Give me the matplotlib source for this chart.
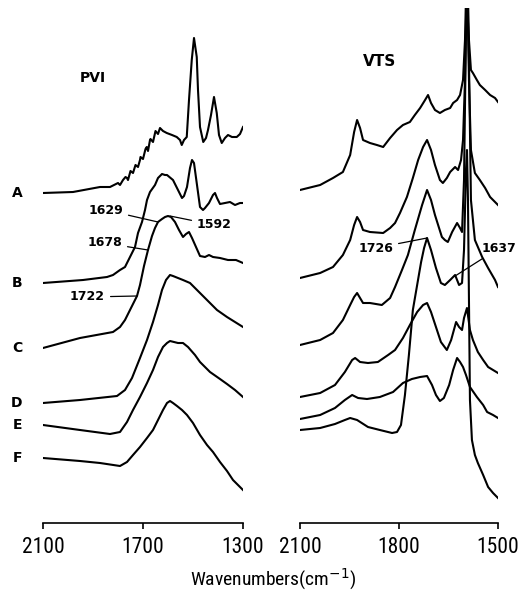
import matplotlib
matplotlib.use("Agg")
import matplotlib.pyplot as plt
from matplotlib import font_manager

# ---------------- data (wavenumber in cm-1, intensity in arbitrary offset units) ----------------
series_labels = ["A", "B", "C", "D", "E", "F"]

# PVI panel
pvi_A_x = [2100, 1980, 1872, 1832, 1800, 1792, 1780, 1770, 1764, 1760, 1750, 1740, 1730, 1720, 1712, 1710,
           1700, 1690, 1685, 1680, 1672, 1670, 1660, 1650, 1640, 1632, 1620, 1605, 1584, 1565, 1552, 1545,
           1536, 1525, 1516, 1505, 1496, 1485, 1480, 1472, 1459, 1448, 1440, 1428, 1416, 1405, 1396,
           1385, 1372, 1360, 1344, 1325, 1312, 1300]
pvi_A_y = [330, 331, 336, 336, 340, 338, 343, 346, 345, 343, 352, 350, 358, 356, 363, 366,
           364, 374, 376, 372, 383, 384, 381, 392, 389, 395, 392, 390, 388, 386, 383, 378,
           383, 386, 423, 463, 485, 466, 433, 396, 381, 385, 393, 408, 426, 410, 388,
           380, 385, 388, 386, 386, 389, 396]
pvi_B_x = [2100, 1940, 1844, 1820, 1792, 1772, 1752, 1732, 1720, 1704, 1692, 1684, 1672, 1652, 1640, 1624,
           1612, 1604, 1580, 1560, 1544, 1536, 1524, 1512, 1504, 1496, 1484, 1472, 1460, 1452, 1436,
           1420, 1412, 1404, 1392, 1372, 1352, 1332, 1312, 1300]
pvi_B_y = [240, 243, 246, 248, 253, 256, 266, 276, 290, 301, 313, 323, 331, 338, 345, 349,
           348, 348, 343, 333, 325, 327, 336, 355, 363, 360, 338, 316, 313, 315, 320,
           328, 330, 325, 319, 320, 321, 318, 320, 320]
pvi_C_x = [2100, 1952, 1820, 1792, 1772, 1752, 1736, 1724, 1712, 1696, 1680, 1664, 1652, 1640, 1624,
           1612, 1600, 1588, 1572, 1556, 1540, 1528, 1516, 1504, 1488, 1472, 1452, 1436, 1420, 1392,
           1360, 1328, 1300]
pvi_C_y = [175, 185, 191, 196, 203, 213, 221, 227, 238, 257, 273, 287, 295, 301, 304,
           306, 307, 306, 301, 293, 286, 289, 291, 285, 276, 267, 266, 268, 266, 265,
           263, 263, 260]
pvi_D_x = [2100, 1952, 1804, 1772, 1744, 1712, 1684, 1660, 1640, 1624, 1608, 1592, 1580, 1560, 1540,
           1512, 1484, 1444, 1404, 1364, 1332, 1300]
pvi_D_y = [120, 123, 127, 133, 145, 165, 183, 201, 218, 233, 243, 248, 247, 245, 243,
           240, 233, 223, 213, 206, 201, 196]
pvi_E_x = [2100, 1952, 1832, 1792, 1764, 1740, 1712, 1684, 1660, 1640, 1620, 1604, 1592, 1576, 1560,
           1540, 1520, 1492, 1472, 1432, 1392, 1364, 1332, 1300]
pvi_E_y = [98, 93, 89, 91, 101, 113, 126, 140, 153, 166, 176, 180, 182, 181, 180,
           180, 176, 168, 161, 151, 144, 139, 133, 126]
pvi_F_x = [2100, 1952, 1872, 1792, 1764, 1740, 1712, 1684, 1660, 1640, 1620, 1604, 1592, 1580, 1564,
           1544, 1524, 1500, 1472, 1444, 1420, 1392, 1364, 1340, 1320, 1300]
pvi_F_y = [65, 62, 60, 57, 61, 68, 76, 85, 93, 103, 113, 120, 122, 120, 117,
           113, 108, 100, 88, 78, 71, 61, 52, 43, 38, 33]

# VTS panel
vts_A_x = [2100, 2039, 2000, 1970, 1948, 1936, 1927, 1918, 1909, 1888, 1867, 1848, 1827, 1806, 1788,
           1767, 1752, 1736, 1721, 1712, 1703, 1691, 1676, 1661, 1645, 1636, 1624, 1615, 1606, 1600,
           1594, 1588, 1582, 1576, 1564, 1555, 1539, 1524, 1509, 1500]
vts_A_y = [333, 338, 345, 351, 368, 391, 403, 395, 383, 380, 378, 376, 385, 393, 398,
           401, 408, 415, 423, 428, 420, 413, 410, 413, 415, 420, 423, 428, 443, 483,
           570, 483, 453, 450, 443, 438, 433, 428, 425, 421]
vts_B_x = [2100, 2039, 2000, 1970, 1948, 1936, 1927, 1918, 1909, 1888, 1848, 1827, 1812, 1797, 1776,
           1758, 1742, 1727, 1715, 1703, 1691, 1676, 1667, 1655, 1645, 1630, 1621, 1612, 1606, 1600,
           1594, 1588, 1582, 1570, 1555, 1539, 1524, 1509, 1500]
vts_B_y = [245, 250, 256, 268, 283, 298, 306, 301, 293, 291, 290, 295, 300, 310, 326,
           345, 363, 376, 383, 373, 358, 343, 340, 345, 351, 356, 353, 363, 383, 443,
           560, 443, 373, 350, 343, 335, 326, 321, 318]
vts_C_x = [2100, 2039, 2000, 1970, 1948, 1936, 1927, 1918, 1909, 1888, 1852, 1827, 1812, 1791, 1773,
           1752, 1730, 1715, 1703, 1691, 1670, 1661, 1652, 1639, 1624, 1615, 1609, 1603, 1597, 1594,
           1588, 1582, 1570, 1548, 1530, 1509, 1500]
vts_C_y = [178, 183, 190, 203, 218, 226, 230, 225, 220, 220, 218, 225, 236, 253, 268,
           293, 318, 333, 323, 308, 286, 283, 281, 291, 300, 295, 291, 343, 493, 538,
           463, 323, 283, 266, 255, 243, 236]
vts_D_x = [2100, 2039, 1994, 1964, 1942, 1933, 1918, 1894, 1864, 1833, 1812, 1788, 1767, 1745, 1727,
           1715, 1703, 1688, 1673, 1655, 1642, 1627, 1618, 1609, 1603, 1594, 1585, 1576, 1561, 1545,
           1530, 1515, 1500]
vts_D_y = [126, 130, 138, 151, 163, 165, 161, 160, 161, 168, 173, 185, 198, 211, 218,
           220, 211, 196, 181, 173, 183, 201, 196, 193, 205, 215, 193, 183, 171, 163,
           156, 153, 150]
vts_E_x = [2100, 2039, 1994, 1964, 1942, 1924, 1897, 1858, 1818, 1788, 1761, 1736, 1715, 1700, 1688,
           1676, 1664, 1648, 1636, 1624, 1615, 1606, 1597, 1585, 1564, 1545, 1533, 1515, 1500]
vts_E_y = [104, 108, 115, 123, 128, 125, 124, 126, 131, 140, 144, 146, 147, 138, 128,
           122, 125, 138, 153, 165, 161, 156, 148, 136, 126, 118, 111, 108, 105]
vts_F_x = [2100, 2039, 1994, 1964, 1948, 1927, 1894, 1858, 1821, 1806, 1794, 1782, 1770, 1758, 1745,
           1733, 1724, 1715, 1703, 1688, 1673, 1661, 1645, 1630, 1618, 1609, 1603, 1597, 1594, 1591,
           1588, 1585, 1579, 1570, 1561, 1545, 1530, 1515, 1500]
vts_F_y = [93, 95, 99, 103, 105, 103, 96, 93, 90, 91, 98, 128, 168, 213, 238,
           261, 275, 285, 273, 255, 240, 238, 243, 248, 238, 240, 273, 353, 373, 323,
           223, 123, 83, 68, 60, 48, 36, 30, 25]

pvi_ticks = [2100, 1700, 1300]
vts_ticks = [2100, 1800, 1500]

# annotations: (text, curve point x, curve point y, text x, text y, horizontal alignment)
pvi_notes = [("1629", 1640, 301, 1780, 313, "right"),
             ("1592", 1592, 307, 1484, 298, "left"),
             ("1678", 1680, 273, 1784, 280, "right"),
             ("1722", 1724, 227, 1852, 226, "right")]
vts_notes = [("1726", 1715, 285, 1818, 275, "right"),
             ("1637", 1630, 247, 1549, 275, "left")]

# ---------------- font for axis text: prefer a condensed face ----------------
def pick_condensed():
    wanted = ["Liberation Sans Narrow", "Roboto Condensed", "DejaVu Sans Condensed",
              "Noto Sans Condensed", "Open Sans Condensed"]
    fl = font_manager.fontManager.ttflist
    for w in wanted:
        for f in fl:
            if f.name == w and f.weight in (400, "normal", "regular") and f.style == "normal":
                return f.fname, True
    for f in fl:
        st = str(f.stretch).lower()
        if ("condensed" in st or (isinstance(f.stretch, int) and f.stretch < 500)) \
                and f.style == "normal" and f.weight in (300, 400, "normal", "regular", "light"):
            return f.fname, True
    for f in fl:
        if "condensed" in f.fname.lower() and "bold" not in f.fname.lower() \
                and "italic" not in f.fname.lower():
            return f.fname, True
    return None, False

cond_path, is_cond = pick_condensed()

def axis_font(size):
    if cond_path:
        return font_manager.FontProperties(fname=cond_path, size=size)
    return font_manager.FontProperties(family="DejaVu Sans", size=size * 0.75)

# ---------------- figure ----------------
W, H = 520, 595
fig = plt.figure(figsize=(W / 100, H / 100), dpi=100)
fig.patch.set_facecolor("white")

bottom = (H - 523) / H
top = (H - 8) / H
ax1 = fig.add_axes([43 / W, bottom, 200 / W, top - bottom])
ax2 = fig.add_axes([300 / W, bottom, 198 / W, top - bottom])

pvi = [(pvi_A_x, pvi_A_y), (pvi_B_x, pvi_B_y), (pvi_C_x, pvi_C_y),
       (pvi_D_x, pvi_D_y), (pvi_E_x, pvi_E_y), (pvi_F_x, pvi_F_y)]
vts = [(vts_A_x, vts_A_y), (vts_B_x, vts_B_y), (vts_C_x, vts_C_y),
       (vts_D_x, vts_D_y), (vts_E_x, vts_E_y), (vts_F_x, vts_F_y)]

for ax, data, xl, ticks in [(ax1, pvi, (2100, 1300), pvi_ticks), (ax2, vts, (2100, 1500), vts_ticks)]:
    for x, y in data:
        ax.plot(x, y, color="black", lw=1.5, solid_joinstyle="round")
    ax.set_xlim(*xl)
    ax.set_ylim(0, 515)
    for s in ["top", "left", "right"]:
        ax.spines[s].set_visible(False)
    ax.spines["bottom"].set_linewidth(1.2)
    ax.set_yticks([])
    ax.set_xticks(ticks)
    ax.set_xticklabels([str(t) for t in ticks], fontproperties=axis_font(15.5))
    ax.tick_params(axis="x", direction="out", length=4, width=1.2, pad=6)
    ax.patch.set_alpha(0)

# series letters at the start of each PVI curve
for lab, (x, y) in zip(series_labels, pvi):
    ax1.text(2204, y[0], lab, ha="center", va="center", fontsize=10,
             fontweight="bold", clip_on=False)

ax1.text(1900, 445, "PVI", ha="center", va="center", fontsize=10, fontweight="bold")
ax2.text(1858, 461, "VTS", ha="center", va="center", fontsize=11, fontweight="bold")

for ax, notes in [(ax1, pvi_notes), (ax2, vts_notes)]:
    for txt, px, py, tx, ty, ha in notes:
        ax.annotate(txt, xy=(px, py), xytext=(tx, ty), ha=ha, va="center",
                    fontsize=9, fontweight="bold", annotation_clip=False,
                    arrowprops=dict(arrowstyle="-", lw=0.9, color="black",
                                    shrinkA=2, shrinkB=0))

fig.text(273 / W, (H - 579) / H, "Wavenumbers(cm$^{-1}$)", ha="center", va="center",
         fontproperties=axis_font(14))

fig.savefig("out.png", dpi=100, facecolor="white")
